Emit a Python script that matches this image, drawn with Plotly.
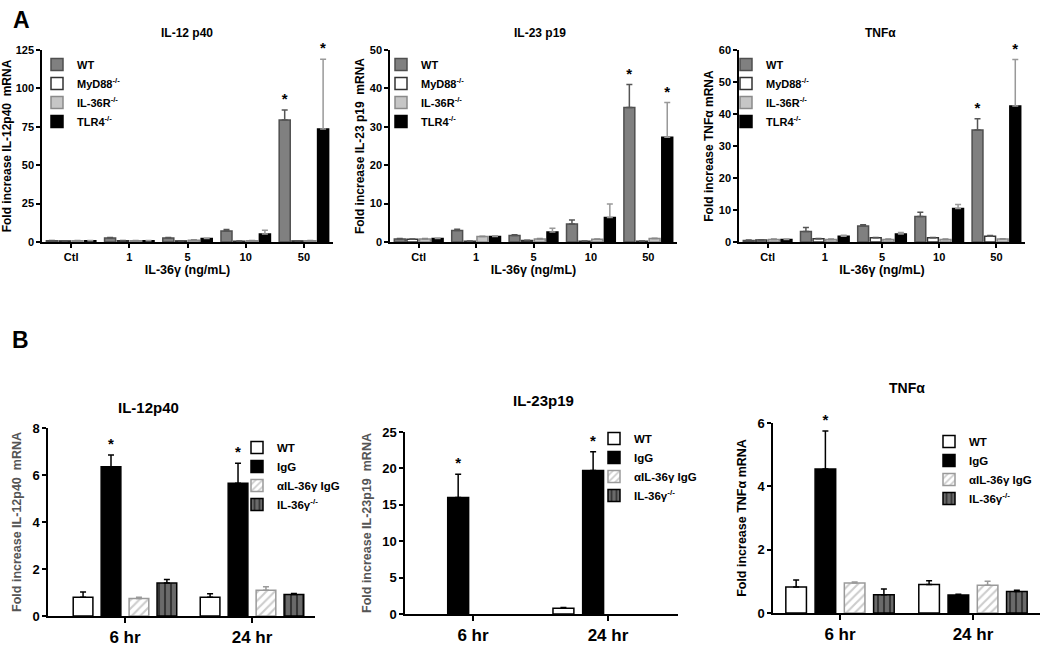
import plotly.graph_objects as go

# ---------------- panel A: IL-36γ dose response ----------------
dose_labels = ["Ctl", "1", "5", "10", "50"]
a_strains = ["WT", "MyD88<sup>-/-</sup>", "IL-36R<sup>-/-</sup>", "TLR4<sup>-/-</sup>"]

il12_mean = [
    [0.8, 2.6, 2.6, 7.2, 79.5],   # WT
    [0.7, 0.8, 0.7, 0.5, 0.7],    # MyD88-/-
    [0.8, 0.8, 1.2, 0.8, 0.8],    # IL-36R-/-
    [0.8, 0.8, 2.2, 5.2, 73.5],   # TLR4-/-
]
il12_err = [
    [0.1, 0.4, 0.4, 1.0, 6.5],
    [0.1, 0.1, 0.1, 0.1, 0.1],
    [0.1, 0.1, 0.2, 0.1, 0.1],
    [0.1, 0.1, 0.3, 2.5, 45.5],
]
il23_mean = [
    [0.8, 3.0, 1.7, 4.7, 35.0],
    [0.7, 0.2, 0.4, 0.2, 0.2],
    [0.8, 1.4, 0.8, 0.7, 0.9],
    [0.9, 1.4, 2.6, 6.4, 27.3],
]
il23_err = [
    [0.1, 0.3, 0.2, 1.0, 6.0],
    [0.05, 0.05, 0.05, 0.05, 0.05],
    [0.1, 0.1, 0.1, 0.1, 0.1],
    [0.1, 0.2, 1.0, 3.5, 9.0],
]
tnf_mean = [
    [0.5, 3.3, 5.0, 8.0, 35.0],
    [0.6, 1.0, 1.3, 1.3, 1.8],
    [0.8, 0.8, 0.8, 0.8, 0.9],
    [0.8, 1.8, 2.5, 10.5, 42.5],
]
tnf_err = [
    [0.1, 1.2, 0.4, 1.3, 3.5],
    [0.1, 0.1, 0.1, 0.1, 0.2],
    [0.1, 0.1, 0.1, 0.1, 0.1],
    [0.1, 0.3, 0.5, 1.2, 14.5],
]
a_star = [[0, 0, 0, 0, 1], [0] * 5, [0] * 5, [0, 0, 0, 0, 1]]

# ---------------- panel B: time course ----------------
time_labels = ["6 hr", "24 hr"]
b_groups = ["WT", "IgG", "αIL-36γ IgG", "IL-36γ<sup>-/-</sup>"]

b_il12_mean = [[0.8, 0.8], [6.35, 5.65], [0.75, 1.1], [1.4, 0.92]]
b_il12_err = [[0.22, 0.15], [0.5, 0.85], [0.05, 0.15], [0.15, 0.04]]
b_il12_star = [[0, 0], [1, 1], [0, 0], [0, 0]]

b_il23_mean = [[None, 0.8], [16.0, 19.7], [None, None], [None, None]]
b_il23_err = [[0, 0.1], [3.2, 2.6], [0, 0], [0, 0]]
b_il23_star = [[0, 0], [1, 1], [0, 0], [0, 0]]

b_tnf_mean = [[0.82, 0.9], [4.55, 0.57], [0.95, 0.88], [0.58, 0.68]]
b_tnf_err = [[0.22, 0.12], [1.2, 0.02], [0.03, 0.12], [0.18, 0.04]]
b_tnf_star = [[0, 0], [1, 0], [0, 0], [0, 0]]

W, H = 1050, 651
FONT = "Arial, Liberation Sans, sans-serif"

a_styles = [
    dict(color="#808080", line="#4f4f4f", err="#555555", pattern=""),
    dict(color="white", line="#333333", err="#555555", pattern=""),
    dict(color="#c6c6c6", line="#8a8a8a", err="#888888", pattern=""),
    dict(color="black", line="black", err="#999999", pattern=""),
]
b_styles = [
    dict(color="white", line="black", err="black", pattern=""),
    dict(color="black", line="black", err="black", pattern=""),
    dict(color="white", line="#9a9a9a", err="#9a9a9a", pattern="/", fg="#9a9a9a"),
    dict(color="#6a6a6a", line="black", err="black", pattern="|", fg="black"),
]


def px_x(p):
    return p / W


def px_y(p):
    return 1 - p / H


fig = go.Figure()


def add_panel(n, cats, names, means, errs, stars, styles, bw, tsize):
    s = "" if n == 1 else str(n)
    xa, ya, lg = "x" + s, "y" + s, "legend" + s
    for k, name in enumerate(names):
        st = styles[k]
        pat = dict(shape=st["pattern"], fgcolor=st.get("fg", "black"),
                   bgcolor=st["color"], size=6, solidity=0.35) if st["pattern"] else None
        fig.add_trace(go.Bar(
            x=cats, y=means[k], name=name, legend=lg,
            offsetgroup=str(k), width=bw,
            marker=dict(color=st["color"], line=dict(color=st["line"], width=1.5),
                        pattern=pat),
            error_y=dict(type="data", symmetric=False, array=errs[k],
                         arrayminus=[0] * len(cats), color=st["err"],
                         thickness=1.5, width=3),
            xaxis=xa, yaxis=ya, hoverinfo="skip",
        ))
        if not any(stars[k]):
            continue
        # invisible bar reaching the top of the error bar carries the asterisk
        tops = [(m or 0) + e if flag else None
                for m, e, flag in zip(means[k], errs[k], stars[k])]
        fig.add_trace(go.Bar(
            x=cats, y=tops, offsetgroup=str(k), width=bw, showlegend=False,
            marker=dict(color="rgba(0,0,0,0)", line=dict(width=0)),
            text=["*" if f else None for f in stars[k]], textposition="outside",
            textfont=dict(size=tsize, color="black", family=FONT, weight="bold"),
            constraintext="none", cliponaxis=False,
            xaxis=xa, yaxis=ya, hoverinfo="skip",
        ))


# A panels
add_panel(1, dose_labels, a_strains, il12_mean, il12_err, a_star, a_styles, 0.19, 15)
add_panel(2, dose_labels, a_strains, il23_mean, il23_err, a_star, a_styles, 0.19, 15)
add_panel(3, dose_labels, a_strains, tnf_mean, tnf_err, a_star, a_styles, 0.19, 15)
# B panels
add_panel(4, time_labels, b_groups, b_il12_mean, b_il12_err, b_il12_star, b_styles, 0.155, 15)
add_panel(5, time_labels, b_groups, b_il23_mean, b_il23_err, b_il23_star, b_styles, 0.155, 15)
add_panel(6, time_labels, b_groups, b_tnf_mean, b_tnf_err, b_tnf_star, b_styles, 0.155, 15)

axis_common = dict(showline=True, linecolor="black", linewidth=1.5, showgrid=False,
                   zeroline=False, ticks="outside", tickwidth=1.5, tickcolor="black")

# pixel boxes: (left, right, top, bottom)
boxes = {
    1: (42, 333, 50, 242),
    2: (390, 677, 50, 242),
    3: (739, 1025, 50, 242),
    4: (48, 315, 428, 616),
    5: (405, 678, 432, 614),
    6: (773, 1040, 423, 613),
}
y_ranges = {1: (125, 25), 2: (50, 10), 3: (60, 10), 4: (8, 2), 5: (25, 5), 6: (6, 2)}
x_ranges = {4: [-0.606, 1.496], 5: [-0.504, 1.519], 6: [-0.504, 1.504]}
y_titles = {
    1: "Fold increase IL-12p40  mRNA",
    2: "Fold increase IL-23 p19  mRNA",
    3: "Fold increase TNFα mRNA",
    4: "Fold increase IL-12p40  mRNA",
    5: "Fold increase IL-23p19  mRNA",
    6: "Fold increase TNFα mRNA",
}

layout = {}
for n, (l, r, t, b) in boxes.items():
    s = "" if n == 1 else str(n)
    is_a = n <= 3
    ymax, dt = y_ranges[n]
    xa = dict(axis_common, domain=[px_x(l), px_x(r)], anchor="y" + s,
              ticklen=4 if is_a else 5,
              tickfont=dict(family=FONT, size=11 if is_a else 17, color="black",
                            weight="bold"))
    if is_a:
        xa["range"] = [-0.5, 4.5]
        xa["title"] = dict(text="IL-36γ (ng/mL)", standoff=3,
                           font=dict(family=FONT, size=12.5, color="black", weight="bold"))
    else:
        xa["range"] = x_ranges[n]
    ya = dict(axis_common, domain=[px_y(b), px_y(t)], anchor="x" + s,
              range=[0, ymax], dtick=dt, ticklen=4,
              tickfont=dict(family=FONT, size=11 if is_a else 13, color="black",
                            weight="bold"),
              title=dict(text=y_titles[n], standoff=3 if is_a else 8,
                         font=dict(family=FONT, size=12 if is_a else 12.5,
                                   color="#555555" if n in (4, 5) else "black",
                                   weight="bold")))
    layout["xaxis" + s] = xa
    layout["yaxis" + s] = ya

# legends
legend_pos = {1: (37, 50), 2: (381, 50), 3: (726, 50), 4: (237, 433), 5: (594, 424), 6: (929, 427)}
for n, (lx, ly) in legend_pos.items():
    s = "" if n == 1 else str(n)
    layout["legend" + s] = dict(
        x=px_x(lx), y=px_y(ly), xanchor="left", yanchor="top",
        bgcolor="rgba(0,0,0,0)", tracegroupgap=0, itemwidth=30,
        font=dict(family=FONT, size=11 if n <= 3 else 11.5, color="black", weight="bold"),
    )

titles = [
    ("IL-12 p40", 187, 33, 12), ("IL-23 p19", 540, 33, 12), ("TNFα", 880, 33, 12),
    ("IL-12p40", 148, 408, 15), ("IL-23p19", 543, 400, 15), ("TNFα", 907, 388, 14),
]
annotations = [
    dict(text=t, x=px_x(x), y=px_y(y), xref="paper", yref="paper", showarrow=False,
         xanchor="center", yanchor="middle",
         font=dict(family=FONT, size=sz, color="black", weight="bold"))
    for t, x, y, sz in titles
]
annotations += [
    dict(text=lbl, x=px_x(x), y=px_y(y), xref="paper", yref="paper", showarrow=False,
         xanchor="center", yanchor="middle",
         font=dict(family=FONT, size=23, color="black", weight="bold"))
    for lbl, x, y in [("A", 21, 20), ("B", 20, 340)]
]

fig.update_layout(
    width=W, height=H, margin=dict(l=0, r=0, t=0, b=0, autoexpand=False),
    paper_bgcolor="white", plot_bgcolor="white",
    barmode="group", bargap=0.12, bargroupgap=0,
    font=dict(family=FONT, color="black"),
    annotations=annotations,
    **layout,
)

# drop the default 8px page margin so the figure fills the window exactly
fig.write_html("out.html", config={"displayModeBar": False},
               post_script="document.body.style.margin='0px';")
